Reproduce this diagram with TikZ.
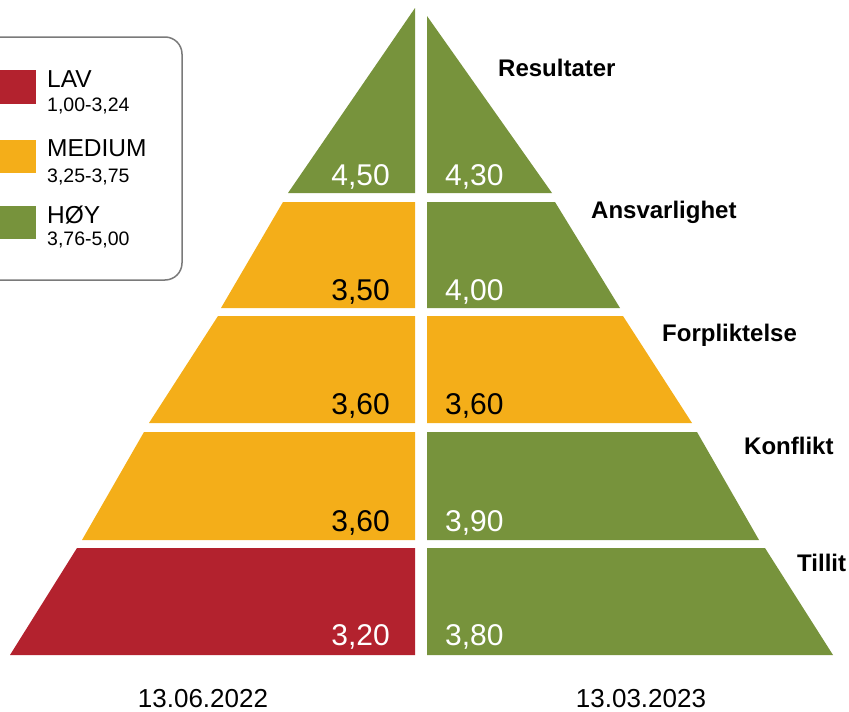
\documentclass[tikz,border=0pt]{standalone}
\usepackage{fontspec}
\setmainfont{Liberation Sans}
\definecolor{lav}{HTML}{B3222E}
\definecolor{med}{HTML}{F4AE19}
\definecolor{hoy}{HTML}{77933C}
\definecolor{boxgray}{HTML}{7A7A7A}
\tikzset{
  val/.style={inner sep=0pt, font=\fontsize{30}{36}\selectfont},
  rowlab/.style={inner sep=0pt, anchor=base west, font=\fontsize{24}{28}\selectfont\bfseries},
  datelab/.style={inner sep=0pt, anchor=base, font=\fontsize{26}{30}\selectfont},
  legmain/.style={inner sep=0pt, anchor=base west, font=\fontsize{24.5}{28}\selectfont},
  legsub/.style={inner sep=0pt, anchor=base west, font=\fontsize{19.5}{22}\selectfont},
  legbox/.style={draw=boxgray, line width=1.5pt, rounded corners=17pt},
}
\begin{document}
\begin{tikzpicture}[x=1pt,y=-1pt]
\useasboundingbox (0,0) rectangle (849,712);
% legend
\draw[legbox] (-30,37) rectangle (182,280);
\fill[lav] (-5,70) rectangle (36,104);
\fill[med] (-5,140) rectangle (36,173);
\fill[hoy] (-5,206) rectangle (36,239);
\node[legmain] (lavt) at (47,87) {LAV};
\node[legsub] (lavr) at (47,111) {1,00-3,24};
\node[legmain] (medt) at (47,156) {MEDIUM};
\node[legsub] (medr) at (47,182) {3,25-3,75};
\node[legmain] (hoyt) at (47,223) {HØY};
\node[legsub] (hoyr) at (47,245) {3,76-5,00};
% left half
\fill[hoy] (415,8) -- (288,193) -- (415,193) -- cycle;
\fill[med] (283,202) -- (221,308) -- (415,308) -- (415,202) -- cycle;
\fill[med] (218,316) -- (149,423) -- (415,423) -- (415,316) -- cycle;
\fill[med] (144,432) -- (82,540) -- (415,540) -- (415,432) -- cycle;
\fill[lav] (77,548) -- (10,655) -- (415,655) -- (415,548) -- cycle;
% right half
\fill[hoy] (427,16) -- (427,193) -- (552,193) -- cycle;
\fill[hoy] (427,202) -- (555,202) -- (620,308) -- (427,308) -- cycle;
\fill[med] (427,316) -- (623,316) -- (692,423) -- (427,423) -- cycle;
\fill[hoy] (427,432) -- (697,432) -- (759,540) -- (427,540) -- cycle;
\fill[hoy] (427,548) -- (765,548) -- (833,655) -- (427,655) -- cycle;
% values
\node[val, anchor=base east, text=white] (l1) at (390,185) {4,50};
\node[val, anchor=base east, text=black] (l2) at (390,300) {3,50};
\node[val, anchor=base east, text=black] (l3) at (390,414) {3,60};
\node[val, anchor=base east, text=black] (l4) at (390,531) {3,60};
\node[val, anchor=base east, text=white] (l5) at (390,645) {3,20};
\node[val, anchor=base west, text=white] (r1) at (445,185) {4,30};
\node[val, anchor=base west, text=white] (r2) at (445,300) {4,00};
\node[val, anchor=base west, text=black] (r3) at (445,414) {3,60};
\node[val, anchor=base west, text=white] (r4) at (445,531) {3,90};
\node[val, anchor=base west, text=white] (r5) at (445,645) {3,80};
% row labels
\node[rowlab] (res) at (498,76) {Resultater};
\node[rowlab] (ans) at (591,218) {Ansvarlighet};
\node[rowlab] (for) at (662,341) {Forpliktelse};
\node[rowlab] (kon) at (744,454) {Konflikt};
\node[rowlab] (til) at (797,571) {Tillit};
% dates
\node[datelab] (d1) at (203,707) {13.06.2022};
\node[datelab] (d2) at (641,707) {13.03.2023};
\end{tikzpicture}
\end{document}
